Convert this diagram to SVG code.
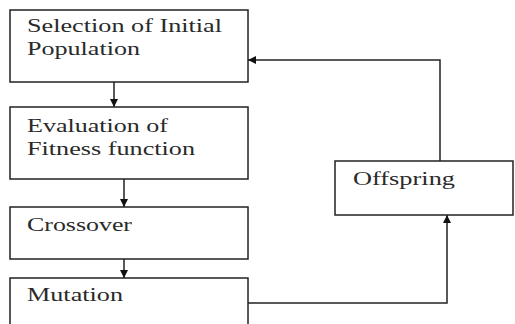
<svg xmlns="http://www.w3.org/2000/svg" width="515" height="324" viewBox="0 0 515 324">
<defs>
<style>
.box{fill:#fff;stroke:#222;stroke-width:1.5}
.t{font-family:"Liberation Serif","DejaVu Serif",serif;font-size:18px;fill:#2a2a2a}
.c{fill:none;stroke:#222;stroke-width:1.5}
</style>
<marker id="ah" viewBox="0 0 10 10" refX="10" refY="5" markerWidth="8" markerHeight="8" markerUnits="userSpaceOnUse" orient="auto">
<path d="M0,0 L10,5 L0,10 Z" fill="#111"/>
</marker>
</defs>
<rect width="515" height="324" fill="#fff"/>
<g id="connectors">
<line class="c" x1="114" y1="82" x2="114" y2="107" marker-end="url(#ah)"/>
<line class="c" x1="124" y1="179" x2="124" y2="207" marker-end="url(#ah)"/>
<line class="c" x1="124" y1="259" x2="124" y2="278" marker-end="url(#ah)"/>
<polyline class="c" points="248,303 447,303 447,215" marker-end="url(#ah)"/>
<polyline class="c" points="440,161 440,60 248,60" marker-end="url(#ah)"/>
</g>
<g id="n1">
<rect class="box" x="10" y="10" width="238" height="72"/>
<text class="t" x="27" y="32" textLength="195" lengthAdjust="spacingAndGlyphs">Selection of Initial</text>
<text class="t" x="27" y="55" textLength="113" lengthAdjust="spacingAndGlyphs">Population</text>
</g>
<g id="n2">
<rect class="box" x="10" y="107" width="238" height="72"/>
<text class="t" x="27" y="132" textLength="141" lengthAdjust="spacingAndGlyphs">Evaluation of</text>
<text class="t" x="27" y="155" textLength="168" lengthAdjust="spacingAndGlyphs">Fitness function</text>
</g>
<g id="n3">
<rect class="box" x="10" y="207" width="238" height="52"/>
<text class="t" x="27" y="231" textLength="105" lengthAdjust="spacingAndGlyphs">Crossover</text>
</g>
<g id="n4">
<rect class="box" x="10" y="278" width="238" height="60"/>
<text class="t" x="27" y="301" textLength="96" lengthAdjust="spacingAndGlyphs">Mutation</text>
</g>
<g id="n5">
<rect class="box" x="335" y="161" width="178" height="54"/>
<text class="t" x="353" y="185" textLength="102" lengthAdjust="spacingAndGlyphs">Offspring</text>
</g>
</svg>
